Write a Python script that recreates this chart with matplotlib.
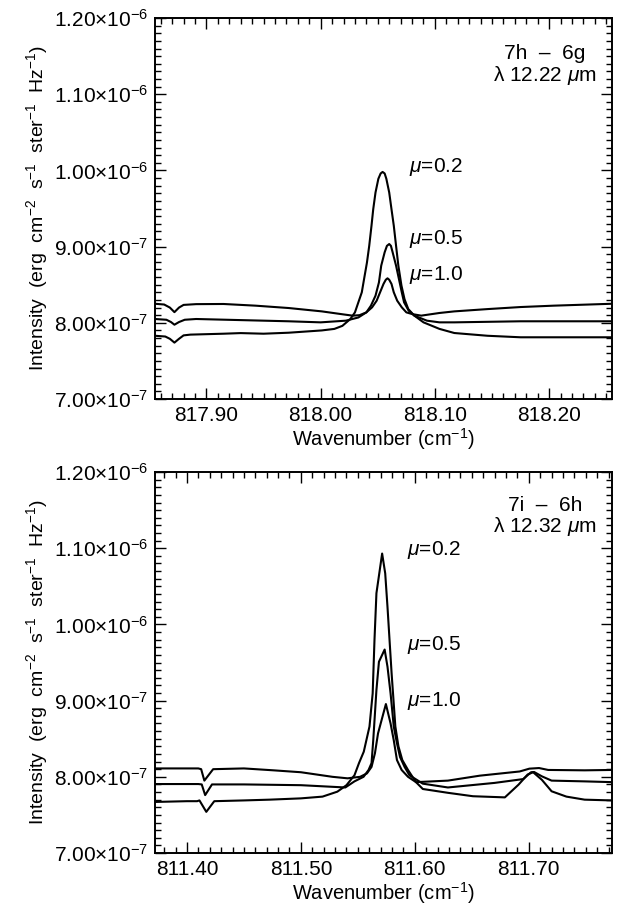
import matplotlib

matplotlib.use("Agg")

import matplotlib.pyplot as plt
import numpy as np
from matplotlib.ticker import MultipleLocator, FixedLocator, FuncFormatter

# intensities are in units of 1e-7 erg cm-2 s-1 ster-1 Hz-1
SCALE = 1e-7

# ---- upper panel: 7h - 6g, 12.22 um ----
top_x_mu10 = [817.855, 817.863, 817.868, 817.872, 817.876, 817.880, 817.891, 817.915,
              817.943, 817.972, 818.001, 818.020, 818.028, 818.034, 818.040, 818.045,
              818.049, 818.052, 818.055, 818.057, 818.0585, 818.060, 818.062, 818.064,
              818.067, 818.071, 818.075, 818.080, 818.088, 818.104, 818.117, 818.146,
              818.175, 818.204, 818.255]
top_y_mu10 = [8.25, 8.24, 8.20, 8.14, 8.20, 8.235, 8.245, 8.247,
              8.225, 8.194, 8.15, 8.11, 8.094, 8.10, 8.137, 8.203,
              8.29, 8.40, 8.51, 8.565, 8.584, 8.565, 8.51, 8.40,
              8.29, 8.203, 8.137, 8.115, 8.094, 8.129, 8.15, 8.18,
              8.207, 8.225, 8.25]

top_x_mu05 = [817.855, 817.865, 817.869, 817.872, 817.876, 817.881, 817.891, 817.915,
              817.972, 818.000, 818.022, 818.033, 818.040, 818.044, 818.048, 818.051,
              818.053, 818.056, 818.058, 818.060, 818.0615, 818.063, 818.066, 818.0685,
              818.071, 818.073, 818.077, 818.082, 818.093, 818.104, 818.117, 818.175,
              818.255]
top_y_mu05 = [8.05, 8.04, 8.01, 7.975, 8.01, 8.04, 8.05, 8.041,
              8.02, 8.006, 8.028, 8.07, 8.137, 8.225, 8.356, 8.53,
              8.75, 8.925, 9.01, 9.034, 9.01, 8.925, 8.75, 8.575,
              8.40, 8.269, 8.16, 8.094, 8.028, 8.006, 8.006, 8.02,
              8.02]

top_x_mu02 = [817.855, 817.864, 817.868, 817.872, 817.876, 817.880, 817.886, 817.915,
              817.930, 817.950, 817.972, 818.001, 818.012, 818.019, 818.026, 818.030,
              818.033, 818.036, 818.038, 818.0405, 818.0425, 818.0445, 818.046, 818.048,
              818.0505, 818.0525, 818.0542, 818.056, 818.0575, 818.060, 818.062, 818.064,
              818.066, 818.068, 818.0707, 818.0734, 818.0767, 818.082, 818.090, 818.104,
              818.117, 818.146, 818.175, 818.255]
top_y_mu02 = [7.83, 7.82, 7.79, 7.74, 7.79, 7.835, 7.845, 7.857,
              7.865, 7.857, 7.87, 7.90, 7.92, 7.96, 8.05, 8.137,
              8.269, 8.40, 8.575, 8.79, 9.01, 9.275, 9.49, 9.71,
              9.89, 9.96, 9.98, 9.96, 9.89, 9.71, 9.49, 9.275,
              9.01, 8.75, 8.49, 8.31, 8.18, 8.094, 8.006, 7.92,
              7.866, 7.83, 7.81, 7.81]

# ---- lower panel: 7i - 6h, 12.32 um ----
bot_x_mu10 = [811.372, 811.410, 811.4125, 811.4153, 811.423, 811.450, 811.476, 811.500,
              811.5276, 811.541, 811.552, 811.558, 811.562, 811.565, 811.5677, 811.5746,
              811.5787, 811.5815, 811.5843, 811.5884, 811.594, 811.601, 811.629, 811.657,
              811.692, 811.7005, 811.709, 811.717, 811.749, 811.773]
bot_y_mu10 = [8.11, 8.11, 8.10, 7.95, 8.10, 8.11, 8.085, 8.06,
              8.00, 7.98, 8.00, 8.045, 8.13, 8.31, 8.57, 8.955,
              8.70, 8.48, 8.22, 8.09, 8.00, 7.93, 7.95, 8.015,
              8.07, 8.107, 8.115, 8.09, 8.085, 8.09]

bot_x_mu05 = [811.372, 811.410, 811.413, 811.416, 811.422, 811.450, 811.500, 811.539,
              811.547, 811.555, 811.5594, 811.562, 811.5635, 811.5663, 811.5685, 811.5735,
              811.576, 811.5787, 811.5815, 811.5843, 811.587, 811.591, 811.5953, 811.607,
              811.629, 811.670, 811.695, 811.702, 811.7047, 811.7115, 811.720, 811.749,
              811.773]
bot_y_mu05 = [7.905, 7.905, 7.90, 7.76, 7.90, 7.90, 7.89, 7.86,
              7.94, 8.00, 8.09, 8.18, 8.48, 9.14, 9.51, 9.67,
              9.445, 9.095, 8.66, 8.44, 8.26, 8.13, 8.02, 7.91,
              7.86, 7.92, 7.97, 8.06, 8.063, 8.006, 7.95, 7.94,
              7.93]

bot_x_mu02 = [811.372, 811.400, 811.409, 811.411, 811.417, 811.424, 811.450, 811.4724,
              811.500, 811.519, 811.532, 811.540, 811.547, 811.551, 811.5552, 811.5602,
              811.563, 811.5646, 811.5663, 811.5713, 811.574, 811.576, 811.5796, 811.5829,
              811.5856, 811.589, 811.594, 811.601, 811.607, 811.629, 811.651, 811.679,
              811.691, 811.699, 811.7038, 811.7115, 811.720, 811.733, 811.749, 811.773]
bot_y_mu02 = [7.67, 7.68, 7.68, 7.69, 7.54, 7.68, 7.69, 7.70,
              7.717, 7.74, 7.805, 7.89, 8.02, 8.18, 8.33, 8.66,
              9.095, 9.80, 10.41, 10.93, 10.67, 10.23, 9.36, 8.66,
              8.40, 8.22, 8.09, 7.93, 7.84, 7.79, 7.745, 7.73,
              7.897, 8.03, 8.06, 7.96, 7.81, 7.74, 7.70, 7.69]

mu_labels = ["$\\mu$=0.2", "$\\mu$=0.5", "$\\mu$=1.0"]
titles = [("7h  \u2013  6g", "\u03bb 12.22 $\\mu$m"), ("7i  \u2013  6h", "\u03bb 12.32 $\\mu$m")]
y_ticks = [7.0e-7, 8.0e-7, 9.0e-7, 1.0e-6, 1.1e-6, 1.2e-6]

plt.rcParams["font.family"] = ["Liberation Sans", "DejaVu Sans"]
plt.rcParams["mathtext.fontset"] = "custom"
plt.rcParams["mathtext.rm"] = "Liberation Sans"
plt.rcParams["mathtext.it"] = "Liberation Sans:italic"
plt.rcParams["font.size"] = 14.5


def sci_label(v, pos):
    exp = int(np.floor(np.log10(v) + 1e-9))
    mant = v / 10.0 ** exp
    return "%.2f\u00d710$^{%d}$" % (mant, exp)


fig = plt.figure(figsize=(6.44, 9.06), dpi=100)
ax_top = fig.add_axes([0.2407, 0.5596, 0.7096, 0.4205])
ax_bot = fig.add_axes([0.2407, 0.0585, 0.7096, 0.4205])

panels = [
    (ax_top, [(top_x_mu02, top_y_mu02), (top_x_mu05, top_y_mu05), (top_x_mu10, top_y_mu10)],
     (817.855, 818.255), [817.90, 818.00, 818.10, 818.20],
     [0.556, 0.556, 0.556], [0.609, 0.42, 0.325], titles[0], (0.908, 0.848)),
    (ax_bot, [(bot_x_mu02, bot_y_mu02), (bot_x_mu05, bot_y_mu05), (bot_x_mu10, bot_y_mu10)],
     (811.372, 811.773), [811.40, 811.50, 811.60, 811.70],
     [0.552, 0.552, 0.552], [0.795, 0.546, 0.40], titles[1], (0.913, 0.856)),
]

for ax, curves, xlim, xticks, lx, ly, title, ty in panels:
    for xs, ys in curves:
        ax.plot(xs, np.array(ys) * SCALE, color="black", lw=1.5)
    ax.set_xlim(*xlim)
    ax.set_ylim(7e-7, 1.2e-6)
    ax.xaxis.set_major_locator(FixedLocator(xticks))
    ax.xaxis.set_minor_locator(MultipleLocator(0.01))
    ax.xaxis.set_major_formatter(FuncFormatter(lambda v, p: "%.2f" % v))
    ax.yaxis.set_major_locator(FixedLocator(y_ticks))
    ax.yaxis.set_minor_locator(MultipleLocator(1e-8))
    ax.yaxis.set_major_formatter(FuncFormatter(sci_label))
    ax.tick_params(which="both", direction="in", top=True, right=True, width=1)
    ax.tick_params(which="major", length=8, pad=5, labelsize=15)
    ax.tick_params(which="minor", length=4)
    for sp in ax.spines.values():
        sp.set_linewidth(1.4)
    ax.set_xlabel("Wavenumber (cm$^{-1}$)", labelpad=1)
    ax.set_ylabel("Intensity  (erg  cm$^{-2}$  s$^{-1}$  ster$^{-1}$  Hz$^{-1}$)",
                  labelpad=3, fontsize=14)
    for lab, x, y in zip(mu_labels, lx, ly):
        ax.text(x, y, lab, transform=ax.transAxes, ha="left", va="center", fontsize=15)
    ax.text(0.853, ty[0], title[0], transform=ax.transAxes, ha="center", va="center", fontsize=15)
    ax.text(0.853, ty[1], title[1], transform=ax.transAxes,
            ha="center", va="center", fontsize=15)

fig.savefig("out.png", dpi=100)
